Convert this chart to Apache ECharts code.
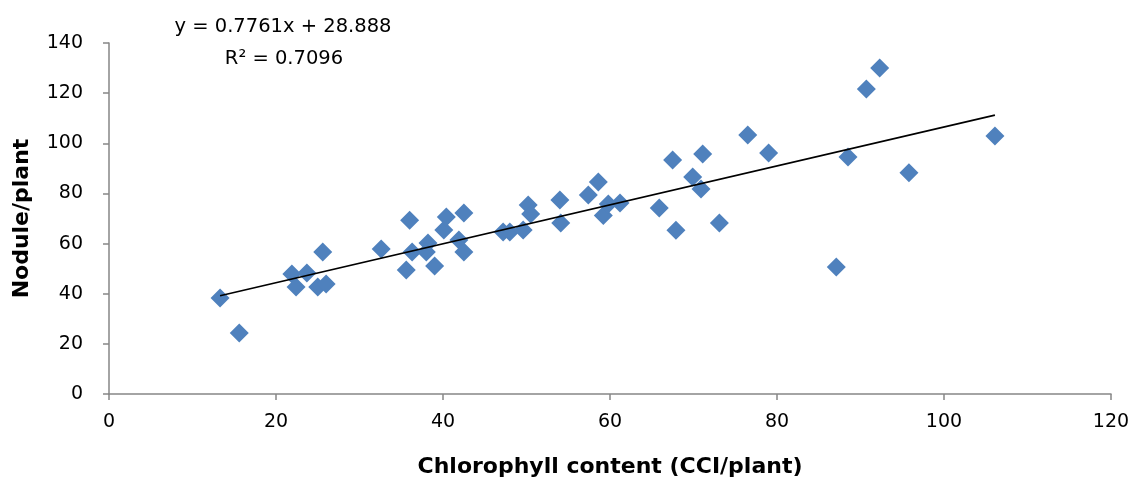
<!DOCTYPE html>
<html>
<head>
<meta charset="utf-8">
<script src="https://cdn.jsdelivr.net/npm/echarts@6/dist/echarts.min.js"></script>
<style>html,body{margin:0;padding:0;background:#fff}#c{width:1141px;height:483px}</style>
</head>
<body>
<div id="c"></div>
<script>
const chlorophyll = [13.3,15.6,21.9,22.4,23.7,25.0,25.6,26.0,32.6,35.6,36.0,36.3,38.2,38.0,39.0,40.1,40.4,41.9,42.5,42.5,47.2,48.0,49.6,50.2,50.5,54.0,54.1,57.4,58.6,59.2,59.8,61.2,65.9,67.5,67.9,69.9,70.9,71.1,73.1,76.5,79.0,87.1,88.5,90.7,92.3,95.8,106.1];
const nodules = [38.3,24.3,47.9,42.7,48.3,42.7,56.6,43.9,57.8,49.5,69.3,56.6,60.2,56.6,51.1,65.4,70.6,61.4,72.2,56.6,64.6,64.6,65.4,75.4,71.8,77.4,68.2,79.4,84.6,71.2,75.8,76.2,74.2,93.3,65.3,86.6,81.8,95.7,68.2,103.3,96.1,50.7,94.5,121.7,130.0,88.2,102.9];
const slope = 0.7761, intercept = 28.888;
const equationLabel = 'y = 0.7761x + 28.888';
const r2Label = 'R² = 0.7096';
const xTicks = [0,20,40,60,80,100,120];
const yTicks = [0,20,40,60,80,100,120,140];

const points = chlorophyll.map((x,i)=>[x,nodules[i]]);
const xMin = Math.min(...chlorophyll), xMax = Math.max(...chlorophyll);
const trend = [[xMin, slope*xMin+intercept],[xMax, slope*xMax+intercept]];

const chart = echarts.init(document.getElementById('c'), null, {renderer:'canvas'});
const axisColor = '#868686';
chart.setOption({
  animation:false,
  backgroundColor:'#fff',
  textStyle:{fontFamily:'DejaVu Sans'},
  grid:{left:109,right:30,top:43,bottom:89},
  title:[
    {text:equationLabel,left:278,top:12,textAlign:'center',textStyle:{fontFamily:'DejaVu Sans',fontSize:19.5,fontWeight:'normal',color:'#000'}},
    {text:r2Label,left:279,top:44,textAlign:'center',textStyle:{fontFamily:'DejaVu Sans',fontSize:19.5,fontWeight:'normal',color:'#000'}}
  ],
  xAxis:{
    type:'value',min:xTicks[0],max:xTicks[xTicks.length-1],interval:20,
    name:'Chlorophyll content (CCI/plant)',nameLocation:'middle',nameGap:62,
    nameTextStyle:{fontFamily:'DejaVu Sans',fontWeight:'bold',fontSize:22,color:'#000'},
    axisLine:{show:true,lineStyle:{color:axisColor,width:1.5}},
    axisTick:{show:true,length:6,lineStyle:{color:axisColor,width:1.5}},
    axisLabel:{fontFamily:'DejaVu Sans',fontSize:19,color:'#000',margin:19},
    splitLine:{show:false}
  },
  yAxis:{
    type:'value',min:yTicks[0],max:yTicks[yTicks.length-1],interval:20,
    name:'Nodule/plant',nameLocation:'middle',nameGap:76,nameRotate:90,
    nameTextStyle:{fontFamily:'DejaVu Sans',fontWeight:'bold',fontSize:22,color:'#000'},
    axisLine:{show:true,lineStyle:{color:axisColor,width:1.5}},
    axisTick:{show:true,length:6,lineStyle:{color:axisColor,width:1.5}},
    axisLabel:{fontFamily:'DejaVu Sans',fontSize:19,color:'#000',margin:26},
    splitLine:{show:false}
  },
  series:[
    {type:'scatter',data:points,symbol:'diamond',symbolSize:19,itemStyle:{color:'#4F81BD',opacity:1},z:2},
    {type:'line',data:trend,symbol:'none',lineStyle:{color:'#000',width:1.6},z:3,silent:true}
  ]
});
</script>
</body>
</html>
